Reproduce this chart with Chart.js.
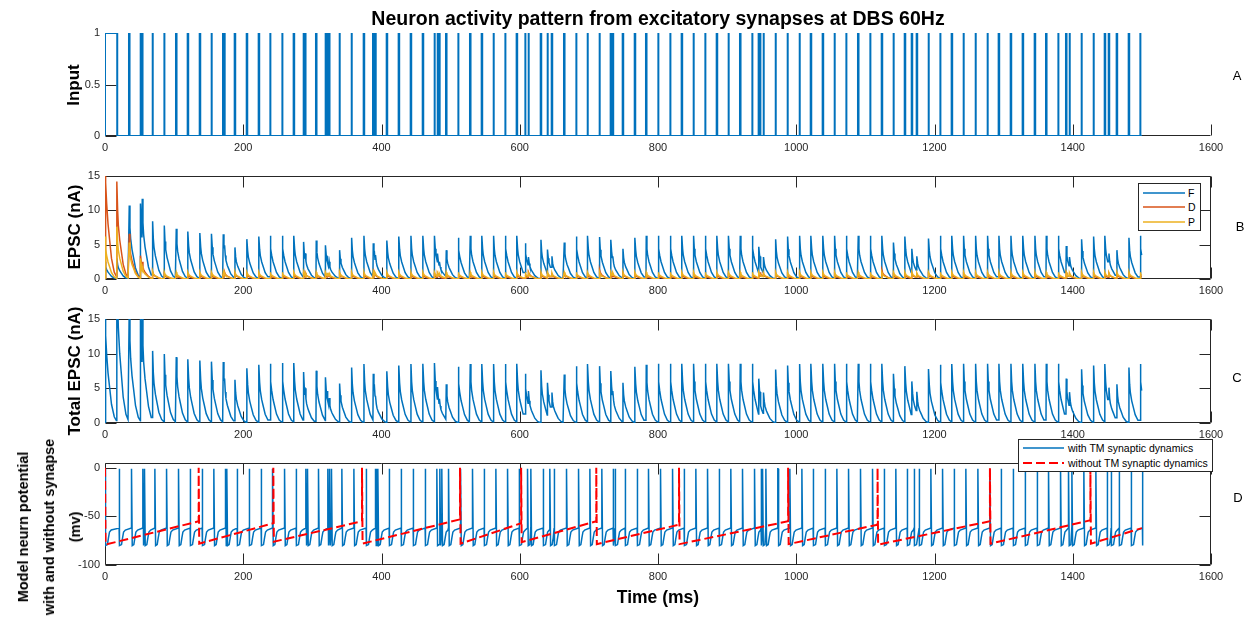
<!DOCTYPE html>
<html>
<head>
<meta charset="utf-8">
<title>Neuron activity pattern from excitatory synapses at DBS 60Hz</title>
<script src="https://cdn.jsdelivr.net/npm/chart.js@4/dist/chart.umd.min.js"></script>
<style>
  body { margin: 0; background: #fff; font-family: "Liberation Sans", Arial, sans-serif; }
  #fig { position: relative; width: 1254px; height: 619px; overflow: hidden; background: #fff; }
  #fig canvas { position: absolute; left: 0; }
  .txt { position: absolute; white-space: nowrap; color: #000; transform: translate(-50%, -50%); }
  .bold { font-weight: bold; }
  .ylab { position: absolute; white-space: nowrap; font-weight: bold; font-size: 17px; color: #000;
          text-align: center; transform: translate(-50%, -50%) rotate(-90deg); }
  .legend { position: absolute; background: #fff; border: 1px solid #262626; font-size: 10.5px; color: #000; }
  .legend svg { position: absolute; left: 0; top: 0; }
  .legend span { position: absolute; white-space: nowrap; transform: translateY(-50%); }
</style>
</head>
<body>
<div id="fig">
  <canvas id="inputChart" width="1254" height="165" style="top:0px"></canvas>
  <canvas id="epscChart" width="1254" height="145" style="top:160px"></canvas>
  <canvas id="totalChart" width="1254" height="145" style="top:305px"></canvas>
  <canvas id="vmChart" width="1254" height="179" style="top:440px"></canvas>

  <div class="txt bold" style="left:658px; top:18px; font-size:19.5px;">Neuron activity pattern from excitatory synapses at DBS 60Hz</div>
  <div class="txt bold" style="left:658px; top:597px; font-size:17.5px;">Time (ms)</div>

  <div class="ylab" style="left:74px; top:85px;">Input</div>
  <div class="ylab" style="left:75px; top:227px;">EPSC (nA)</div>
  <div class="ylab" style="left:75px; top:371px;">Total EPSC (nA)</div>
  <div class="ylab" style="left:49px; top:527px; font-size:14.5px; line-height:26px;">Model neurn potential<br>with and without synapse<br>(mv)</div>

  <div class="txt" style="left:1237px; top:75px; font-size:13px;">A</div>
  <div class="txt" style="left:1240px; top:226px; font-size:13px;">B</div>
  <div class="txt" style="left:1237px; top:377px; font-size:13px;">C</div>
  <div class="txt" style="left:1238px; top:497px; font-size:13px;">D</div>

  <div class="legend" style="left:1138px; top:183px; width:61px; height:46px;">
    <svg width="61" height="46">
      <line x1="4" y1="9" x2="46" y2="9" stroke="#0072BD" stroke-width="1.5"/>
      <line x1="4" y1="23" x2="46" y2="23" stroke="#D95319" stroke-width="1.5"/>
      <line x1="4" y1="38" x2="46" y2="38" stroke="#EDB120" stroke-width="1.5"/>
    </svg>
    <span style="left:49px; top:9px;">F</span>
    <span style="left:49px; top:23px;">D</span>
    <span style="left:49px; top:38px;">P</span>
  </div>

  <div class="legend" style="left:1018px; top:439px; width:193px; height:31px;">
    <svg width="193" height="31">
      <line x1="4" y1="8" x2="45" y2="8" stroke="#0072BD" stroke-width="1.5"/>
      <line x1="4" y1="23" x2="45" y2="23" stroke="#FF0000" stroke-width="2" stroke-dasharray="9,4"/>
    </svg>
    <span style="left:49px; top:8px;">with TM synaptic dynamics</span>
    <span style="left:49px; top:23px;">without TM synaptic dynamics</span>
  </div>
</div>

<script>
// tick labels
const xTicks = [0, 200, 400, 600, 800, 1000, 1200, 1400, 1600];
const inputTicks = [0, 0.5, 1];
const epscTicks = [0, 5, 10, 15];
const vmTicks = [-100, -50, 0];

// input spike times (ms)
const spikeTimes = [
  0, 16.9, 34.7, 51.1, 53.5, 68.5, 85.4, 102.7, 119.6, 137.0,
  153.8, 170.7, 172.6, 187.6, 205.0, 222.3, 238.7, 256.1, 272.9, 286.9,
  289.3, 305.2, 318.7, 321.2, 324.0, 339.0, 356.4, 374.2, 387.7, 389.2,
  391.1, 407.5, 424.8, 442.2, 459.6, 476.4, 480.8, 483.6, 493.3, 510.7,
  528.0, 544.9, 561.8, 578.7, 595.5, 607.6, 612.4, 630.3, 639.9, 646.2,
  664.0, 681.4, 697.8, 715.1, 731.5, 734.4, 748.9, 766.3, 782.6, 800.0,
  817.4, 834.2, 851.1, 868.0, 884.9, 901.7, 918.6, 936.0, 945.6, 947.6,
  952.4, 969.8, 987.1, 1004.5, 1020.9, 1038.2, 1055.1, 1072.0, 1089.3, 1106.7,
  1123.6, 1140.4, 1156.9, 1167.0, 1174.2, 1191.1, 1208.0, 1224.8, 1241.7, 1259.1,
  1276.4, 1292.8, 1310.2, 1327.5, 1344.9, 1361.3, 1378.7, 1390.2, 1395.1, 1412.4,
  1429.8, 1446.2, 1452.0, 1463.5, 1480.9, 1497.3
];
const inputHoldUntil = 16.9;   // input sits at 1 from t=0 until here
const pulseMs = 0.8;
const endTime = 1500;

// EPSC peak per input spike (nA)
const fPeak = [
  2.5, 3.0, 10.7, 11.0, 11.7, 8.4, 7.8, 7.3, 6.9, 6.7,
  6.6, 6.5, 4.9, 4.6, 5.8, 6.2, 6.3, 6.3, 6.3, 5.4,
  3.7, 5.6, 4.9, 3.3, 2.5, 4.2, 6.0, 6.3, 5.2, 4.1,
  3.5, 5.6, 6.2, 6.3, 6.3, 6.3, 3.7, 2.5, 4.2, 6.0,
  6.3, 6.3, 6.3, 6.3, 6.3, 5.2, 3.2, 5.7, 4.3, 3.3,
  5.3, 6.2, 6.3, 6.1, 5.7, 3.3, 4.4, 6.0, 6.3, 6.3,
  6.3, 6.3, 6.3, 6.3, 6.3, 6.3, 6.3, 6.3, 4.7, 2.5,
  3.2, 5.8, 6.2, 6.3, 6.3, 6.3, 6.3, 6.3, 6.3, 6.3,
  6.3, 5.3, 6.2, 4.4, 3.3, 5.9, 6.3, 6.3, 6.3, 6.3,
  6.3, 6.3, 6.3, 6.3, 6.3, 6.3, 6.3, 4.8, 3.2, 5.8,
  6.2, 6.3, 3.7, 4.2, 6.0, 6.3
];
const dPeak = [
  20, 14.2, 6.6, 3.4, 2.5, 1.0, 0.7, 0.6, 0.6, 0.6,
  0.6, 0.6, 1.0, 0.8, 0.7, 0.6, 0.6, 0.6, 0.6, 0.6,
  0.9, 0.7, 0.6, 0.8, 0.5, 0.8, 0.7, 0.6, 0.6, 1.0,
  0.6, 0.7, 0.6, 0.6, 0.6, 0.6, 0.8, 0.4, 0.7, 0.7,
  0.6, 0.6, 0.6, 0.6, 0.6, 0.6, 1.0, 0.7, 0.8, 0.6,
  0.8, 0.7, 0.6, 1.3, 0.6, 0.6, 0.8, 0.7, 0.6, 0.6,
  0.6, 0.6, 0.6, 0.6, 0.6, 0.6, 0.6, 0.6, 0.6, 1.0,
  0.7, 0.8, 0.6, 0.6, 0.6, 0.6, 0.6, 0.6, 0.6, 0.6,
  1.3, 0.6, 0.6, 0.8, 0.6, 0.7, 0.6, 0.6, 0.6, 0.6,
  0.6, 0.6, 0.6, 0.6, 0.6, 0.6, 0.6, 0.9, 0.6, 0.7,
  0.6, 0.6, 0.8, 0.7, 0.6, 0.6
];
const pPeak = [
  6.2, 7.6, 5.3, 3.0, 1.8, 1.1, 1.0, 1.0, 1.0, 1.0,
  1.0, 1.0, 0.9, 1.0, 1.0, 1.0, 1.0, 1.0, 1.0, 1.0,
  0.9, 1.0, 1.0, 0.9, 0.8, 1.0, 1.0, 1.0, 1.0, 0.9,
  0.8, 1.0, 1.0, 1.0, 1.0, 1.0, 0.9, 0.8, 1.0, 1.0,
  1.0, 1.0, 1.0, 1.0, 1.0, 1.0, 0.9, 1.0, 1.0, 0.9,
  1.0, 1.0, 1.0, 1.0, 1.0, 0.9, 1.0, 1.0, 1.0, 1.0,
  1.0, 1.0, 1.0, 1.0, 1.0, 1.0, 1.0, 1.0, 1.0, 0.8,
  0.9, 1.0, 1.0, 1.0, 1.0, 1.0, 1.0, 1.0, 1.0, 1.0,
  1.0, 1.0, 1.0, 1.0, 0.9, 1.0, 1.0, 1.0, 1.0, 1.0,
  1.0, 1.0, 1.0, 1.0, 1.0, 1.0, 1.0, 1.0, 0.9, 1.0,
  1.0, 1.0, 0.9, 1.0, 1.0, 1.0
];
const totalPeak = [
  18, 25, 17, 16, 16, 10.4, 9.95, 9.5, 9.2, 9.0,
  8.85, 8.8, 6.4, 6.25, 7.9, 8.4, 8.55, 8.65, 8.65, 7.35,
  5.0, 7.55, 6.6, 4.6, 3.6, 5.7, 8.0, 8.5, 7.1, 5.6,
  3.9, 7.45, 8.3, 8.5, 8.55, 8.65, 5.2, 3.5, 5.6, 8.1,
  8.5, 8.5, 8.5, 8.5, 8.55, 7.1, 4.6, 7.6, 5.8, 4.4,
  7.0, 8.2, 8.5, 8.2, 7.5, 4.6, 5.8, 8.1, 8.4, 8.55,
  8.55, 8.55, 8.55, 8.55, 8.55, 8.55, 8.55, 8.55, 6.4, 3.5,
  4.4, 7.7, 8.3, 8.5, 8.55, 8.55, 8.55, 8.55, 8.55, 8.55,
  8.55, 7.1, 8.2, 6.0, 4.5, 7.8, 8.4, 8.5, 8.55, 8.55,
  8.55, 8.55, 8.55, 8.55, 8.55, 8.55, 8.55, 6.4, 4.45, 7.75,
  8.3, 8.5, 5.1, 5.6, 8.0, 8.5
];
// decay of one EPSC after its peak (ms after peak, fraction of peak)
const decayMs = [0, 1, 2, 4, 6, 9, 13, 16];
const decayFrac = [1, 0.7, 0.55, 0.4, 0.3, 0.15, 0.05, 0.02];

// membrane potential with TM synapses: shape after each spike
const vmDelay = 3.5;
const vmShapeMs = [0, 0.3, 1.2, 3.5, 5, 6.5, 9];
const vmShapeMv = [-1, -1, -80, -79, -72, -66, -64];
const vmBeforeSpike = -62;
const vmEnd = 1501.5;

// membrane potential without TM synapses
const noSynSpikes = [0, 135.5, 243.5, 371.8, 513.6, 602.0, 710.7, 830.4, 988.2, 1117.6, 1280.2, 1425.5];
const noSynReset = [-79, -78, -76, -78, -78, -76.5, -78.5, -78.5, -78.5, -79, -78, -78];
const noSynBefore = [-55, -57, -55, -53, -57, -55, -58.5, -55, -58.5, -55, -54, -62];

Chart.defaults.font.family = '"Liberation Sans", Arial, sans-serif';
Chart.defaults.color = "#262626";

function inputTrace() {
  const pts = [{ x: 0, y: 0 }, { x: 0, y: 1 }];
  spikeTimes.forEach(function (t) {
    if (t === 0) return;
    if (t > inputHoldUntil) pts.push({ x: t, y: 0 });
    pts.push({ x: t, y: 1 }, { x: t + pulseMs, y: 1 }, { x: t + pulseMs, y: 0 });
  });
  pts.push({ x: endTime, y: 0 });
  return pts;
}

function epscTrace(peaks) {
  const pts = [];
  let last = 0;
  spikeTimes.forEach(function (t, i) {
    const next = i + 1 < spikeTimes.length ? spikeTimes[i + 1] : endTime;
    pts.push({ x: t, y: last });
    decayMs.forEach(function (d, k) {
      const x = t + 0.4 + d;
      if (x <= next) {
        last = peaks[i] * decayFrac[k];
        pts.push({ x: x, y: last });
      }
    });
  });
  return pts;
}

function vmTrace() {
  const pts = [];
  const times = spikeTimes.map(function (t, i) { return i === 0 ? 0 : t + vmDelay; });
  times.forEach(function (t, i) {
    const next = i + 1 < times.length ? times[i + 1] : vmEnd;
    if (i > 0) pts.push({ x: t, y: vmBeforeSpike });
    vmShapeMs.forEach(function (d, k) {
      if (t + d < next) pts.push({ x: t + d, y: vmShapeMv[k] });
    });
  });
  pts.push({ x: vmEnd, y: vmShapeMv[2] });
  return pts;
}

function noSynTrace() {
  const pts = [];
  noSynSpikes.forEach(function (t, i) {
    const next = i + 1 < noSynSpikes.length ? noSynSpikes[i + 1] : endTime;
    pts.push({ x: t, y: 0 }, { x: t + 0.8, y: noSynReset[i] }, { x: next, y: noSynBefore[i] });
  });
  return pts;
}

// matlab-like axes: box lines and inward ticks
const matlabAxes = {
  id: "matlabAxes",
  beforeDatasetsDraw(chart, args, opts) {
    const ctx = chart.ctx;
    const a = chart.chartArea;
    const x = chart.scales.x, y = chart.scales.y;
    const L = Math.round(a.left) + 0.5, R = Math.round(a.right) - 0.5;
    const T = Math.round(a.top) + 0.5, B = Math.round(a.bottom) - 0.5;
    ctx.save();
    ctx.strokeStyle = "#262626";
    ctx.lineWidth = 1;
    ctx.beginPath();
    ctx.moveTo(L, T); ctx.lineTo(L, B); ctx.lineTo(R, B);
    if (opts.box) { ctx.lineTo(R, T); ctx.lineTo(L, T); }
    x.ticks.forEach(function (t) {
      const px = Math.round(x.getPixelForValue(t.value)) + 0.5;
      ctx.moveTo(px, B); ctx.lineTo(px, B - 11);
      if (opts.box) { ctx.moveTo(px, T); ctx.lineTo(px, T + 11); }
    });
    y.ticks.forEach(function (t) {
      const py = Math.round(y.getPixelForValue(t.value)) + 0.5;
      ctx.moveTo(L, py); ctx.lineTo(L + 11, py);
      if (opts.box) { ctx.moveTo(R, py); ctx.lineTo(R - 11, py); }
    });
    ctx.stroke();
    ctx.restore();
  }
};

function plainLabel(v) { return String(v); }

function panel(id, areaTop, areaBottom, yMin, yMax, yTicks, box, datasets) {
  const canvas = document.getElementById(id);
  const h = canvas.height;
  return new Chart(canvas.getContext("2d"), {
    type: "line",
    data: { datasets: datasets },
    options: {
      responsive: false,
      animation: false,
      devicePixelRatio: 1,
      events: [],
      layout: { padding: { left: 75, right: 43, top: areaTop, bottom: h - areaBottom - 24 } },
      elements: { point: { radius: 0 }, line: { tension: 0, borderWidth: 1.5 } },
      plugins: { legend: { display: false }, tooltip: { enabled: false }, matlabAxes: { box: box } },
      scales: {
        x: {
          type: "linear", min: 0, max: 1600,
          afterBuildTicks: function (s) { s.ticks = xTicks.map(function (v) { return { value: v }; }); },
          afterFit: function (s) { s.height = 24; },
          grid: { display: false, drawTicks: false },
          border: { display: false },
          ticks: { font: { size: 11 }, padding: 5, maxRotation: 0, autoSkip: false, callback: plainLabel }
        },
        y: {
          type: "linear", min: yMin, max: yMax,
          afterBuildTicks: function (s) { s.ticks = yTicks.map(function (v) { return { value: v }; }); },
          afterFit: function (s) { s.width = 30; },
          grid: { display: false, drawTicks: false },
          border: { display: false },
          ticks: { font: { size: 11 }, padding: 5, callback: plainLabel }
        }
      }
    },
    plugins: [matlabAxes]
  });
}

document.addEventListener("DOMContentLoaded", function () {
  // A: input spike train
  panel("inputChart", 33, 136, 0, 1, inputTicks, false, [
    { label: "Input", data: inputTrace(), borderColor: "#0072BD", borderWidth: 2 }
  ]);

  // B: EPSC of facilitating, depressing and pseudo-linear synapses
  panel("epscChart", 16, 119, 0, 15, epscTicks, true, [
    { label: "F", data: epscTrace(fPeak), borderColor: "#0072BD", order: 3 },
    { label: "D", data: epscTrace(dPeak), borderColor: "#D95319", order: 2 },
    { label: "P", data: epscTrace(pPeak), borderColor: "#EDB120", order: 1 }
  ]);

  // C: total EPSC
  panel("totalChart", 14, 118, 0, 15, epscTicks, true, [
    { label: "Total", data: epscTrace(totalPeak), borderColor: "#0072BD" }
  ]);

  // D: model neuron potential
  panel("vmChart", 23, 125, -100, 5, vmTicks, true, [
    { label: "with TM synaptic dynamics", data: vmTrace(), borderColor: "#0072BD", order: 2 },
    { label: "without TM synaptic dynamics", data: noSynTrace(), borderColor: "#FF0000",
      borderWidth: 2, borderDash: [9, 4], order: 1 }
  ]);
});
</script>
</body>
</html>
